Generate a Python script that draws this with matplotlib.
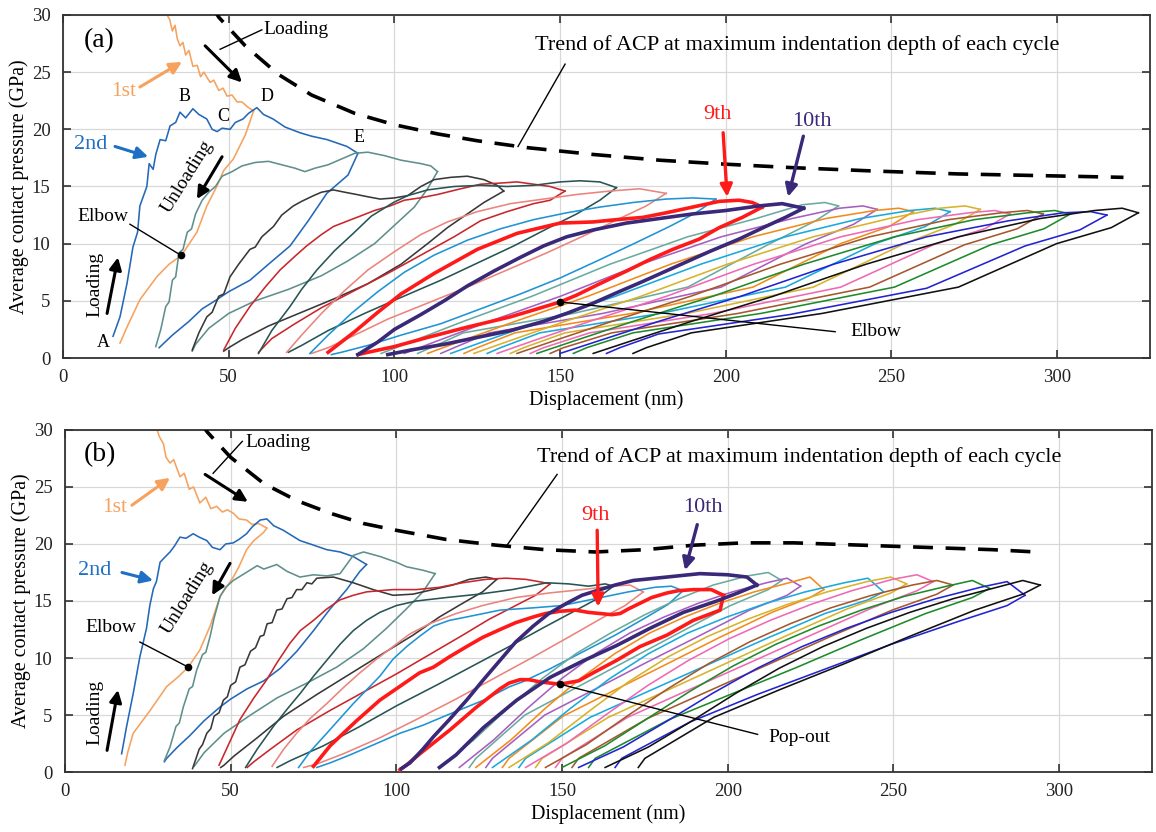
import numpy as np
import matplotlib.pyplot as plt

plt.rcParams['font.family'] = ['Liberation Serif', 'DejaVu Serif']

# colour of each cycle, same order in both panels (1st ... 20th)
cycle_colors = ['#f6a25e', '#2468b8', '#5f8f8c', '#383838', '#c8262c', '#275454',
                '#ea847c', '#1f93d4', '#ff1a1a', '#3a2878', '#6aab9f', '#a65fbf',
                '#f28b1d', '#19a9dc', '#d8b22a', '#ef69b4', '#a5572d', '#1f8a2c',
                '#2323d2', '#111111']

# ---------------- panel (a): loading / unloading paths (nm, GPa) ----------------
a_load = [
    [(29, 31.6), (30.2, 30.4), (31.4, 30.0), (32.2, 29.6), (33, 28.6), (33.8, 29.1), (34.5, 27.9),
     (35.3, 27.3), (36.2, 27.6), (37, 26.5), (38, 26.9), (39.2, 25.5), (40.5, 25.6), (41.5, 24.6),
     (42.5, 25.0), (44.4, 24.1), (45.5, 24.3), (47, 23.4), (48.3, 23.6), (49.5, 22.9), (51, 23.0),
     (52.5, 22.4), (54, 22.4), (55.5, 22.0), (57.5, 21.6)],
    [(15.1, 1.9), (17.2, 3.6), (19.3, 6.5), (21.1, 9.7), (22.5, 11), (23.2, 13.3), (25.3, 15),
     (26, 17), (27.2, 16.5), (28, 17.8), (29.3, 19.1), (31, 19), (32.3, 20.3), (34, 20.6),
     (35.3, 21.5), (37, 21), (39.2, 21.8), (41, 21.3), (43.4, 20.9), (45, 20), (46.5, 19.8),
     (48, 20.1), (50.4, 20), (52, 20.6), (54.3, 20.9), (56, 21.4), (58.5, 21.9), (60.5, 21.3),
     (63.4, 20.9), (67, 20.2), (71.5, 19.7), (75, 19.4), (79.7, 19.1), (85.7, 18.5), (89, 17.9)],
    [(28, 1.0), (29.5, 2.5), (31, 4.5), (32, 4.9), (33, 6.8), (34, 7.1), (35, 9.2), (36.2, 9.5),
     (37.5, 11), (38.8, 11.3), (40, 12.6), (42, 13.8), (44, 14.5), (46, 15), (48, 15.9), (51, 16.3),
     (54, 16.8), (58, 17.1), (62, 17.2), (66, 16.9), (70, 16.6), (73, 16.3), (76, 16.6), (80, 16.9),
     (84, 17.4), (88, 17.9), (92, 18), (97, 17.7), (102, 17.3), (108, 17.0), (111, 16.8), (113, 16.3)],
    [(39, 0.7), (41, 2.2), (43.4, 3.6), (45, 4.0), (47, 5.4), (48.5, 5.6), (50.4, 7.1), (53, 8.2),
     (56.4, 9.5), (58, 9.7), (60, 10.6), (63.5, 11.5), (66, 12.5), (69.5, 13.3), (72, 13.7),
     (75.6, 14.2), (78, 14.5), (81.6, 14.7), (85, 14.5), (88.6, 14.3), (92, 14.1), (95.7, 13.9),
     (100, 14.0), (104, 14.2), (108, 15.0), (112, 15.6), (117, 15.8), (122, 15.9), (127, 15.6),
     (131, 15.1), (133, 14.6)],
    [(48.5, 0.7), (52, 2.6), (56.4, 4.5), (61, 6.2), (65.5, 7.7), (70, 8.9), (73.5, 9.8), (78, 10.8),
     (81.6, 11.5), (86, 12), (89.6, 12.4), (94, 12.9), (98.7, 13.3), (103, 13.8), (107.7, 14.0),
     (113, 14.3), (120, 14.8), (126, 15.2), (132, 15.3), (137, 15.4), (142, 15.2), (147, 15.0),
     (151.5, 14.6)],
    [(59, 0.4), (63, 2.4), (68.5, 4.5), (72, 6.0), (76.6, 7.7), (82, 9.4), (87.6, 10.9), (93, 12.4),
     (99.7, 13.6), (104, 14.2), (110, 14.7), (118, 15.0), (126, 15.1), (134, 15.0), (142, 15.1),
     (150, 15.4), (156, 15.5), (162, 15.4), (167, 14.9)],
    [(67.5, 0.5), (72, 2.0), (78, 3.9), (85, 5.9), (92, 7.7), (100, 9.3), (108, 10.8), (116, 11.9),
     (125, 12.8), (135, 13.5), (145, 13.9), (155, 14.3), (165, 14.6), (174, 14.8), (182, 14.4)],
    [(74.5, 0.4), (80, 2), (87, 3.9), (95, 5.8), (103, 7.5), (112, 9.0), (122, 10.3), (132, 11.3),
     (142, 12.1), (152, 12.7), (162, 13.2), (172, 13.6), (182, 13.9), (190, 14.0), (197, 13.9)],
    [(80, 0.5), (84, 1.4), (88, 2.3), (95, 4.0), (102, 5.6), (112, 7.4), (125, 9.5), (137, 10.9),
     (150, 11.8), (160, 11.9), (167, 12.1), (175, 12.3), (182, 12.7), (190, 13.2), (198, 13.7),
     (204, 13.8), (208, 13.6), (211, 13.2)],
    [(89, 0.3), (95, 1.4), (100, 2.5), (108, 3.8), (115, 5), (122, 6.3), (130, 7.6), (138, 8.8),
     (145, 9.8), (152, 10.6), (160, 11.2), (170, 11.8), (180, 12.2), (190, 12.6), (200, 12.9),
     (210, 13.3), (217, 13.5), (223.5, 13.1)],
    [(96, 0.4), (105.7, 1.5), (120.8, 3.2), (141.5, 5.4), (165, 8.2), (188.5, 10.6), (209.2, 12.2),
     (223, 13.4), (229.9, 13.6), (234, 13.3)],
    [(103, 0.4), (113.0, 1.5), (128.7, 3.2), (150.1, 5.4), (174.4, 8.2), (198.6, 10.6), (220.0, 12.2),
     (234.3, 13.1), (241.4, 13.3), (245.7, 13.0)],
    [(110, 0.4), (120.3, 1.5), (136.4, 3.2), (158.4, 5.4), (183.3, 8.2), (208.2, 10.6), (230.2, 12.2),
     (244.9, 12.9), (252.2, 13.1), (256.6, 12.8)],
    [(117, 0.4), (127.5, 1.5), (144.1, 3.2), (166.7, 5.4), (192.4, 8.2), (218.0, 10.6), (240.6, 12.2),
     (255.6, 12.9), (263.2, 13.1), (267.7, 12.8)],
    [(124, 0.4), (134.7, 1.5), (151.5, 3.2), (174.4, 5.4), (200.4, 8.2), (226.4, 10.6), (249.3, 12.2),
     (264.6, 13.1), (272.2, 13.3), (276.8, 13.0)],
    [(131, 0.4), (141.8, 1.5), (158.9, 3.2), (182.1, 5.4), (208.4, 8.2), (234.7, 10.6), (257.9, 12.1),
     (273.4, 12.7), (281.2, 12.9), (285.8, 12.6)],
    [(137, 0.4), (148.1, 1.5), (165.6, 3.2), (189.4, 5.4), (216.4, 8.2), (243.4, 10.6), (267.2, 12.1),
     (283.1, 12.7), (291.0, 12.9), (295.8, 12.6)],
    [(143, 0.4), (154.3, 1.5), (172.0, 3.2), (196.1, 5.4), (223.5, 8.2), (250.9, 10.6), (275.0, 12.1),
     (291.1, 12.7), (299.2, 12.9), (304, 12.6)],
    [(150, 0.4), (161.6, 1.5), (179.7, 3.2), (204.5, 5.4), (232.5, 8.2), (260.6, 10.6), (285.3, 12.0),
     (301.8, 12.7), (310.1, 12.8), (315, 12.5)],
    [(160, 0.4), (171.5, 1.5), (189.6, 3.2), (214.3, 5.4), (242.3, 8.2), (270.2, 10.6), (294.9, 12.2),
     (311.3, 12.9), (319.6, 13.1), (324.5, 12.7)],
]

a_unload = [
    [(57.5, 21.6), (55, 19.5), (51.4, 17.4), (48.5, 16.4), (46.4, 15), (43.4, 13.3), (40.4, 11),
     (35.8, 9), (32, 8.2), (28.3, 7.1), (23.2, 5.1), (19.3, 2.7), (17.2, 1.3)],
    [(89, 17.9), (86, 16), (82, 15), (79.6, 14.4), (74, 12), (68.5, 9.8), (62, 8.2), (56.4, 6.8),
     (50, 5.8), (46.4, 5.1), (42, 4.3), (38, 3.2), (33, 2.0), (29, 0.9)],
    [(113, 16.3), (110, 14.8), (106, 13.2), (100, 11.6), (94, 10.0), (86, 8.5), (78, 7.2), (68, 6.0),
     (58, 5.0), (50, 3.9), (44, 2.6), (40, 1.2), (39, 0.6)],
    [(133, 14.6), (127, 13.6), (121, 12.4), (116, 11.4), (110, 10.0), (102, 8.2), (92, 6.5),
     (82, 5.2), (72, 4.0), (62, 2.8), (54, 1.6), (50, 0.9), (48.5, 0.6)],
    [(151.5, 14.6), (147, 13.8), (142, 13.5), (134, 12.8), (126, 12.0), (118, 10.6), (108, 9.0),
     (98, 7.4), (88, 5.9), (78, 4.4), (70, 3.0), (63, 1.7), (60, 0.8), (59, 0.5)],
    [(167, 14.9), (162, 13.8), (155, 12.6), (146, 11.3), (136, 9.8), (125, 8.3), (114, 6.8),
     (102, 5.3), (91, 3.9), (80, 2.4), (72, 1.1), (68, 0.5)],
    [(182, 14.4), (176, 13.3), (168, 12.2), (158, 10.8), (146, 9.2), (134, 7.7), (122, 6.2),
     (110, 4.8), (98, 3.4), (88, 2.0), (80, 0.9), (75, 0.4)],
    [(197, 13.9), (191, 12.7), (183, 11.5), (173, 10.1), (162, 8.6), (150, 7.0), (138, 5.6),
     (126, 4.3), (114, 3.0), (102, 2.0), (92, 1.1), (84, 0.5), (81, 0.3)],
    [(211, 13.2), (205, 12.3), (198, 11.4), (192, 10.4), (184, 9.5), (177, 8.6), (170, 7.6),
     (162, 6.5), (155, 5.5), (150, 4.9), (142, 4.2), (135, 3.6), (122, 2.7), (110, 1.8),
     (100, 1.0), (92, 0.5), (89, 0.3)],
    [(223.5, 13.1), (218, 12.3), (212, 11.5), (204, 10.4), (195, 9.3), (185, 8.0), (175, 6.7),
     (167, 5.7), (160, 4.8), (152, 3.9), (145, 3.2), (135, 2.4), (125, 1.8), (115, 1.2),
     (105, 0.7), (98, 0.3)],
    [(234, 13.3), (227.1, 12.0), (213.3, 10.0), (188.5, 6.2), (154, 3.9), (120.8, 2.2), (111, 0.9), (107, 0.4)],
    [(245.7, 13.0), (238.6, 11.7), (224.3, 10.0), (198.6, 6.2), (162.9, 3.9), (128.7, 2.2), (118, 0.9), (114, 0.4)],
    [(256.6, 12.8), (249.3, 11.5), (234.6, 10.0), (208.2, 6.2), (171.6, 3.9), (136.4, 2.2), (125, 0.9), (121, 0.4)],
    [(267.7, 12.8), (260.2, 11.5), (245.1, 10.0), (218.0, 6.2), (180.3, 3.9), (143.9, 2.2), (132, 0.9), (128, 0.4)],
    [(276.8, 13.0), (269.2, 11.7), (253.9, 10.0), (226.4, 6.2), (188.2, 3.9), (151.5, 2.2), (139, 0.9), (135, 0.4)],
    [(285.8, 12.6), (278.1, 11.3), (262.6, 9.9), (234.7, 6.2), (196.0, 3.9), (158.9, 2.2), (145, 0.9), (141, 0.4)],
    [(295.8, 12.6), (287.9, 11.3), (272.0, 9.9), (243.4, 6.2), (203.7, 3.9), (165.6, 2.2), (151, 0.9), (147, 0.4)],
    [(304, 12.6), (296.0, 11.3), (279.9, 9.9), (250.9, 6.2), (210.6, 3.9), (172.0, 2.2), (158, 0.9), (154, 0.4)],
    [(315, 12.5), (306.8, 11.2), (290.3, 9.8), (260.6, 6.1), (219.3, 3.8), (179.7, 2.1), (168, 0.9), (164, 0.4)],
    [(324.5, 12.7), (316.3, 11.4), (299.8, 10.0), (270.2, 6.2), (229.1, 3.9), (189.6, 2.2), (176, 0.9), (172, 0.4)],
]

a_trend_x = [45, 47, 55, 65, 75, 88, 100, 113, 125, 140, 160, 180, 200, 220, 245, 270, 295, 320]
a_trend_y = [30.8, 29.8, 27.3, 24.8, 23.0, 21.4, 20.4, 19.6, 19.0, 18.4, 17.8, 17.3, 16.95, 16.65,
             16.35, 16.1, 15.95, 15.8]

# ---------------- panel (b) ----------------
b_load = [
    [(27, 31.5), (27.6, 30.2), (28.5, 29.4), (29.7, 28.8), (30.5, 27.6), (31.7, 27.1), (32.8, 27.4),
     (34.7, 25.9), (36, 26.2), (37.5, 24.8), (38.8, 25.0), (40.7, 23.6), (42.5, 24.1), (44, 23.1),
     (45.8, 23.3), (47.5, 22.8), (49, 23.0), (50.8, 22.7), (52.5, 22.2), (54.8, 22.1),
     (56.5, 21.7), (58.4, 21.8), (60.9, 21.4)],
    [(17.1, 1.6), (18.6, 4.0), (20.6, 6.9), (22.6, 10.1), (24.6, 12.6), (25.6, 14.6), (26.7, 16.1),
     (27.6, 16.7), (28.7, 18.4), (30, 18.8), (31.7, 19.3), (33, 19.8), (34.7, 20.6), (36.5, 20.5),
     (38.7, 20.9), (40.5, 20.6), (42.8, 20.3), (44.5, 19.7), (46.8, 19.5), (48.5, 20.0), (50.8, 20.1),
     (52.5, 20.4), (54.8, 20.9), (56.5, 21.5), (58.9, 22.1), (60.9, 22.2), (63, 21.6), (65.9, 21.2),
     (70.9, 20.3), (75, 19.9), (79, 19.5), (83, 19.3), (87, 18.9), (91, 18.2)],
    [(30, 1.0), (31.7, 2.2), (33.5, 4), (34.5, 4.3), (35.7, 5.7), (37.5, 7.3), (38.5, 7.5),
     (39.7, 8.9), (41.5, 10.3), (42.5, 10.5), (43.8, 11.9), (45, 13.5), (46.8, 15.4), (48.5, 16.2),
     (50.8, 16.8), (55.8, 17.7), (58, 18.1), (60, 17.8), (63.9, 18.2), (67, 17.6), (70.9, 17.1),
     (75, 17.3), (79, 17.2), (83, 17.4), (87, 19.0), (90.1, 19.3), (95.1, 18.9), (100, 18.4),
     (103.1, 18.0), (108, 17.7), (111.7, 17.4)],
    [(38.5, 0.3), (40.5, 2), (41.5, 2.4), (42.8, 3.4), (44, 3.8), (45, 4.9), (46.5, 5.2), (47.8, 6.3),
     (49, 6.6), (50, 7.6), (51.5, 7.9), (52.8, 9.2), (54.3, 9.4), (56, 10.6), (57.5, 10.9),
     (58.9, 11.9), (60, 12.0), (61, 13), (62.5, 13.1), (63.9, 14.2), (65.5, 14.3), (67, 15.2),
     (68.5, 15.3), (69.9, 16.0), (71.5, 16.0), (73, 16.6), (74.5, 16.5), (76, 17.0), (81, 17.1),
     (87, 16.6), (93, 16.0), (99, 15.5), (105, 15.6), (111, 16.0), (117, 16.4), (122, 16.9),
     (127, 17.1), (130.3, 16.9)],
    [(46.5, 0.6), (49.5, 2.5), (52.8, 4.6), (57, 6.5), (60.9, 8.1), (64, 9.6), (67.9, 11.3),
     (71, 12.4), (75, 13.3), (79, 14.3), (83, 15.1), (87, 15.5), (91, 15.8), (99, 16.0), (106, 16.0),
     (113, 16.2), (120, 16.6), (127, 16.9), (133, 17.0), (139, 16.9), (143, 16.7), (146.4, 16.5)],
    [(54.5, 0.4), (58, 2), (62.9, 4), (67, 5.5), (71, 6.9), (75, 8.4), (79, 9.8), (83, 11.2),
     (87, 12.4), (91, 13.3), (95, 14.0), (100, 14.6), (106, 15.0), (115, 15.3), (125, 15.6),
     (135, 16.0), (145.4, 16.6), (152, 16.5), (158, 16.3), (163, 16.5), (165.5, 16.3)],
    [(62.5, 0.5), (66, 2), (69.9, 3.4), (74, 4.7), (79, 6.0), (84, 7.4), (89, 8.7), (94, 9.9),
     (99, 11.0), (104, 12.1), (110, 13.0), (118, 13.9), (126, 14.6), (136, 15.3), (146, 15.7),
     (156, 16.0), (165, 16.3), (170.5, 16.4), (174.5, 15.8)],
    [(70.5, 0.4), (74, 1.8), (79, 3.4), (83, 4.7), (87, 6.0), (91, 7.2), (95, 8.4), (99, 9.9),
     (103.1, 11.0), (107, 11.9), (111.2, 12.8), (116, 13.3), (121.2, 13.6), (131.3, 14.2),
     (141.3, 14.4), (150, 14.6), (160, 15.2), (170, 15.8), (178, 16.2), (183, 16.3), (186.5, 15.9)],
    [(75, 0.5), (80, 2.3), (88, 4.5), (95, 6.3), (101, 7.5), (107, 8.7), (111.2, 9.2), (116, 10.1),
     (121.2, 11.0), (126, 11.8), (131.3, 12.5), (136, 13.1), (141.3, 13.6), (145, 13.9),
     (149.4, 14.1), (154, 14.2), (158, 14.0), (161.5, 13.9), (165, 13.8), (167.5, 13.9),
     (170, 14.3), (173.5, 14.8), (177, 15.3), (181.6, 15.7), (185, 15.9), (189.6, 16.0),
     (195, 16.0), (198.7, 15.5)],
    [(101.5, 0.3), (104.1, 0.8), (108, 2.0), (111.2, 3.1), (116, 4.6), (121.2, 6.3), (126, 8.0),
     (131.3, 9.8), (136, 11.4), (141.3, 12.8), (146, 13.9), (151.4, 14.8), (156, 15.5),
     (161.5, 16.0), (166, 16.4), (171.5, 16.8), (181.6, 17.1), (191.6, 17.4), (200, 17.3),
     (205.8, 17.1), (208.8, 16.4)],
    [(113, 0.4), (123.3, 2.8), (133.7, 5.6), (144.0, 8.2), (154.3, 10.4), (164.7, 12.2), (175.0, 13.8),
     (185.3, 15.2), (195.6, 16.4), (206.0, 17.2), (212.2, 17.5), (216.3, 16.8)],
    [(119, 0.4), (129.3, 2.8), (139.6, 5.6), (149.9, 8.2), (160.2, 10.4), (170.5, 12.2), (180.8, 13.6),
     (191.1, 14.8), (201.4, 15.8), (211.7, 16.6), (217.9, 17.0), (222, 16.3)],
    [(124, 0.4), (134.5, 2.8), (145, 5.6), (155.5, 8.2), (166, 10.4), (176.5, 12.2), (187, 13.6),
     (197.5, 14.8), (208, 15.8), (218.5, 16.6), (224.8, 17.1), (229, 16.0)],
    [(129, 0.4), (140.8, 2.8), (152.6, 5.6), (164.4, 8.2), (176.2, 10.4), (188, 12.2), (199.8, 13.6),
     (211.6, 14.8), (223.4, 15.8), (235.2, 16.6), (242.3, 17.0), (247, 15.8)],
    [(134, 0.4), (146, 2.6), (158, 5.3), (170, 7.9), (182, 10.1), (194, 11.9), (206, 13.4),
     (218, 14.7), (230, 15.8), (242, 16.7), (249.2, 17.1), (254, 16.5)],
    [(139, 0.4), (151.3, 2.5), (163.6, 5.1), (175.9, 7.6), (188.2, 9.8), (200.5, 11.7), (212.8, 13.3),
     (225.1, 14.7), (237.4, 15.9), (249.7, 16.9), (257.1, 17.3), (262, 16.7)],
    [(145, 0.4), (157.3, 2.4), (169.6, 4.9), (181.9, 7.3), (194.2, 9.5), (206.5, 11.4), (218.8, 13.0),
     (231.1, 14.4), (243.4, 15.5), (255.7, 16.4), (263.1, 16.8), (268, 16.4)],
    [(150, 0.4), (162.9, 2.3), (175.8, 4.7), (188.7, 7.1), (201.6, 9.3), (214.5, 11.2), (227.4, 12.8),
     (240.3, 14.2), (253.2, 15.4), (266.1, 16.3), (273.8, 16.8), (279, 16.1)],
    [(155, 0.4), (168.5, 2.2), (181.9, 4.5), (195.4, 6.9), (208.9, 9.1), (222.4, 11.0), (235.8, 12.6),
     (249.3, 14.0), (262.8, 15.2), (276.2, 16.2), (284.3, 16.7), (289.7, 15.5)],
    [(163, 0.4), (176.1, 2.2), (189.3, 4.5), (202.4, 6.9), (215.5, 9.1), (228.7, 11.0), (241.8, 12.6),
     (254.9, 14.0), (268.0, 15.2), (281.2, 16.2), (289.0, 16.8), (294.3, 16.4)],
]

b_unload = [
    [(60.9, 21.4), (59.9, 21.0), (57, 20.3), (54.8, 19.5), (52.5, 18.0), (50.8, 17.1), (46.8, 15.4),
     (43.8, 12.8), (40.7, 10.7), (37.2, 9.2), (34, 8.3), (30.7, 7.5), (25.7, 5.4), (20.6, 3.4),
     (19, 1.8), (18.1, 0.6)],
    [(91, 18.2), (89, 17.6), (85, 16), (80, 14.3), (75, 12.4), (70, 10.6), (65, 9.1), (60, 8.0),
     (55, 7.3), (50, 6.4), (46.8, 5.7), (42, 4.5), (37.7, 3.2), (34, 2.2), (30.7, 1.2), (30, 0.9)],
    [(111.7, 17.4), (108, 15.8), (103, 14.3), (97, 12.6), (90, 10.8), (82, 9.2), (73, 7.8),
     (64, 6.5), (56, 5.0), (48, 3.4), (42, 1.7), (39, 0.5)],
    [(130.3, 16.9), (126, 15.8), (120, 14.8), (113, 13.6), (105, 12.0), (96, 10.4), (86, 8.6),
     (76, 6.8), (66, 4.9), (58, 3.0), (51, 1.4), (48, 0.6), (47, 0.4)],
    [(146.4, 16.5), (142, 15.5), (136, 14.6), (128, 13.4), (120, 12.0), (110, 10.3), (100, 8.6),
     (90, 7.0), (80, 5.4), (70, 3.7), (62, 2.0), (57, 0.9), (55, 0.4)],
    [(165.5, 16.3), (160, 15.1), (153, 14.0), (144, 12.6), (134, 11.0), (123, 9.3), (112, 7.6),
     (100, 5.8), (89, 4.0), (78, 2.3), (68, 1.0), (64, 0.4)],
    [(174.5, 15.8), (169, 14.6), (162, 13.5), (153, 12.0), (142, 10.2), (130, 8.3), (118, 6.4),
     (106, 4.6), (95, 3.0), (84, 1.6), (76, 0.7), (72, 0.4)],
    [(186.5, 15.9), (182, 14.7), (175, 13.5), (166, 12.0), (156, 10.5), (146, 9.0), (138, 7.9),
     (134.3, 7.5), (126.3, 6.3), (116.2, 5.1), (108, 4.1), (101.1, 3.4), (94, 2.5), (86, 1.5),
     (80, 0.8), (76, 0.4)],
    [(198.7, 15.5), (197.7, 14.2), (189.6, 13.3), (181.6, 12.0), (173.5, 11.0), (166.5, 9.8),
     (159.4, 8.7), (155, 8.0), (149.4, 7.7), (143.4, 7.9), (140, 8.1), (137.3, 8.1), (134, 7.8),
     (131.3, 7.3), (124.2, 5.7), (116.2, 3.7), (107.1, 1.6), (103, 0.6), (101.1, 0.2)],
    [(208.8, 16.4), (203, 15.7), (196.7, 15.0), (186.6, 14.0), (176.5, 12.6), (166.5, 11.1),
     (156, 9.7), (146.4, 8.3), (136.3, 6.3), (126.3, 3.9), (118, 1.5), (113, 0.4)],
    [(216.3, 16.8), (212.2, 16.0), (200.8, 14.6), (185.3, 12.2), (169.8, 9.8), (154.3, 7.4), (138.8, 5.0), (124, 1.2), (122, 0.4)],
    [(222, 16.3), (217.9, 15.5), (206.6, 14.2), (191.1, 11.9), (175.4, 9.6), (160.2, 7.3), (144.8, 5.0), (129, 1.2), (127, 0.4)],
    [(229, 16.0), (224.8, 15.3), (213.3, 14.0), (197.5, 11.8), (181.8, 9.5), (166, 7.2), (150.3, 4.9), (134, 1.2), (132, 0.4)],
    [(247, 15.8), (242.3, 15.1), (229.3, 13.9), (211.6, 11.7), (193.9, 9.4), (176.2, 7.1), (158.5, 4.8), (139, 1.2), (137, 0.4)],
    [(254, 16.5), (249.2, 15.7), (236, 14.3), (218, 12.0), (200, 9.6), (182, 7.2), (164, 4.8), (144, 1.2), (142, 0.4)],
    [(262, 16.7), (257.1, 15.9), (243.6, 14.4), (225.1, 12.0), (206.7, 9.6), (188.2, 7.2), (169.8, 4.8), (150, 1.2), (148, 0.4)],
    [(268, 16.4), (263.1, 15.6), (249.6, 14.2), (231.1, 11.9), (212.7, 9.5), (194.2, 7.1), (175.8, 4.7), (155, 1.2), (153, 0.4)],
    [(279, 16.1), (273.8, 15.3), (259.7, 13.9), (240.3, 11.6), (221, 9.2), (201.6, 6.9), (182.3, 4.6), (160, 1.2), (158, 0.4)],
    [(289.7, 15.5), (284.3, 14.6), (269.5, 13.2), (249.3, 11.2), (229.1, 9.0), (208.9, 6.8), (188.7, 4.4), (168, 1.2), (166, 0.4)],
    [(294.3, 16.4), (289.0, 15.6), (274.6, 14.2), (254.9, 11.9), (235.2, 9.5), (215.5, 7.2), (195.8, 4.8), (175, 1.2), (173, 0.4)],
]

b_trend_x = [41, 43, 50, 60, 70, 80, 90, 100, 115, 130, 145, 160, 175, 190, 205, 220, 240, 260, 280, 293]
b_trend_y = [30.6, 29.8, 27.6, 25.3, 23.8, 22.7, 21.8, 21.2, 20.4, 19.9, 19.5, 19.3, 19.5, 19.9,
             20.1, 20.1, 19.9, 19.7, 19.5, 19.3]

fig = plt.figure(figsize=(11.56, 8.32), dpi=100)
ax_a = fig.add_axes([0.0545, 0.5697, 0.9403, 0.4123])
ax_b = fig.add_axes([0.0562, 0.0721, 0.9403, 0.4111])


def style_axes(ax):
    ax.set_xlim(0, 328)
    ax.set_ylim(0, 30)
    ax.set_xticks(range(0, 301, 50))
    ax.set_yticks(range(0, 31, 5))
    ax.grid(True, color='#d8d8d8', lw=0.9)
    ax.set_axisbelow(True)
    ax.tick_params(direction='in', length=6, width=1.1, top=True, right=True,
                   labelsize=13.5, colors='#222222')
    ax.tick_params(axis='x', pad=8)
    ax.tick_params(axis='y', pad=9)
    for s in ax.spines.values():
        s.set_linewidth(1.3)
        s.set_color('#333333')
    ax.set_xlabel('Displacement (nm)', fontsize=14.5, labelpad=3)
    ax.set_ylabel('Average contact pressure (GPa)', fontsize=14.5, labelpad=2)


def draw_cycles(ax, loads, unloads):
    for i, (ld, ul) in enumerate(zip(loads, unloads)):
        thick = i in (8, 9)
        lw = 2.6 if thick else 1.15
        z = 3 if thick else 2
        ld = np.array(ld)
        ul = np.array(ul)
        ax.plot(ld[:, 0], ld[:, 1], color=cycle_colors[i], lw=lw, zorder=z)
        ax.plot(ul[:, 0], ul[:, 1], color=cycle_colors[i], lw=lw, zorder=z)


def arrow(ax, tail, head, color, lw=2.2, ms=18):
    ax.annotate('', xy=head, xytext=tail,
                arrowprops=dict(arrowstyle='-|>', color=color, lw=lw,
                                mutation_scale=ms, shrinkA=0, shrinkB=0), zorder=6)


def leader(ax, p0, p1):
    ax.plot([p0[0], p1[0]], [p0[1], p1[1]], color='black', lw=1.0, zorder=6)


for ax in (ax_a, ax_b):
    style_axes(ax)

draw_cycles(ax_a, a_load, a_unload)
draw_cycles(ax_b, b_load, b_unload)

ax_a.plot(a_trend_x, a_trend_y, color='black', lw=2.6, ls=(0, (5.5, 3.5)), zorder=5)
ax_b.plot(b_trend_x, b_trend_y, color='black', lw=2.6, ls=(0, (5.5, 3.5)), zorder=5)

# ---- annotations panel (a) ----
ax = ax_a
ax.text(11, 27.8, '(a)', fontsize=20, ha='center', va='center')
ax.text(60.5, 28.7, 'Loading', fontsize=14, ha='left', va='center')
leader(ax, (60, 28.7), (47.4, 27.0))
arrow(ax, (42.9, 27.3), (54, 24.1), 'black')
ax.text(18.4, 23.3, '1st', fontsize=15.5, color='#f6a25e', ha='center', va='center')
arrow(ax, (23.2, 23.7), (35.9, 25.9), '#f6a25e')
ax.text(8.2, 18.7, '2nd', fontsize=16, color='#1f6fc4', ha='center', va='center')
arrow(ax, (15.7, 18.5), (25.7, 17.6), '#1f6fc4')
for lab, px, py in [('A', 12.2, 1.4), ('B', 36.8, 22.9), ('C', 48.4, 21.1), ('D', 61.5, 22.9), ('E', 89.2, 19.3)]:
    ax.text(px, py, lab, fontsize=13, ha='center', va='center')
ax.text(37.4, 15.9, 'Unloading', fontsize=14, rotation=58, ha='center', va='center')
arrow(ax, (48, 17.6), (40.4, 13.9), 'black')
ax.text(9.7, 6.4, 'Loading', fontsize=14, rotation=90, ha='center', va='center')
arrow(ax, (13.3, 3.9), (16.6, 8.8), 'black')
ax.text(12.1, 12.4, 'Elbow', fontsize=14, ha='center', va='center')
leader(ax, (20.2, 11.7), (35.5, 9.0))
ax.plot([35.5], [9.0], 'o', color='black', ms=4.5, zorder=7)
ax.text(142.5, 27.4, 'Trend of ACP at maximum indentation depth of each cycle', fontsize=16,
        ha='left', va='center')
leader(ax, (151.5, 25.7), (137.3, 18.5))
ax.text(197.4, 21.3, '9th', fontsize=16, color='#ff1a1a', ha='center', va='center')
arrow(ax, (199.2, 19.7), (200.4, 14.1), '#ff1a1a', lw=2.4)
ax.text(226, 20.7, '10th', fontsize=16, color='#3a2878', ha='center', va='center')
arrow(ax, (223.4, 19.4), (218.8, 14.1), '#3a2878', lw=2.4)
ax.plot([150], [4.9], 'o', color='black', ms=4.5, zorder=7)
leader(ax, (150, 4.9), (233, 2.3))
ax.text(237.6, 2.3, 'Elbow', fontsize=14, ha='left', va='center')

# ---- annotations panel (b) ----
ax = ax_b
ax.text(10.6, 27.8, '(b)', fontsize=20, ha='center', va='center')
ax.text(54.3, 28.9, 'Loading', fontsize=14, ha='left', va='center')
leader(ax, (53.5, 29.0), (44.7, 26.2))
arrow(ax, (42.3, 26.1), (55.2, 23.7), 'black')
ax.text(15.1, 23.2, '1st', fontsize=15.5, color='#f6a25e', ha='center', va='center')
arrow(ax, (20.2, 23.4), (31.7, 25.8), '#f6a25e')
ax.text(9.1, 17.7, '2nd', fontsize=16, color='#1f6fc4', ha='center', va='center')
arrow(ax, (17.2, 17.5), (26.6, 16.8), '#1f6fc4')
ax.text(36.8, 15.3, 'Unloading', fontsize=14, rotation=58, ha='center', va='center')
arrow(ax, (49.8, 18.3), (44.4, 15.5), 'black')
ax.text(9.1, 5.2, 'Loading', fontsize=14, rotation=90, ha='center', va='center')
arrow(ax, (12.7, 1.9), (16, 7.2), 'black')
ax.text(13.9, 12.7, 'Elbow', fontsize=14, ha='center', va='center')
leader(ax, (22.6, 11.4), (37.2, 9.2))
ax.plot([37.2], [9.2], 'o', color='black', ms=4.5, zorder=7)
ax.text(142.5, 27.6, 'Trend of ACP at maximum indentation depth of each cycle', fontsize=16,
        ha='left', va='center')
leader(ax, (148.5, 26.1), (133.4, 19.9))
ax.text(160, 22.5, '9th', fontsize=16, color='#ff1a1a', ha='center', va='center')
arrow(ax, (160.6, 21.2), (160.9, 14.5), '#ff1a1a', lw=2.4)
ax.text(192.6, 23.2, '10th', fontsize=16, color='#3a2878', ha='center', va='center')
arrow(ax, (190.8, 21.7), (187.1, 17.7), '#3a2878', lw=2.4)
ax.plot([149.4], [7.7], 'o', color='black', ms=4.5, zorder=7)
leader(ax, (149.4, 7.7), (209, 3.3))
ax.text(212.2, 3.0, 'Pop-out', fontsize=14, ha='left', va='center')

fig.savefig('out.png', dpi=100)
